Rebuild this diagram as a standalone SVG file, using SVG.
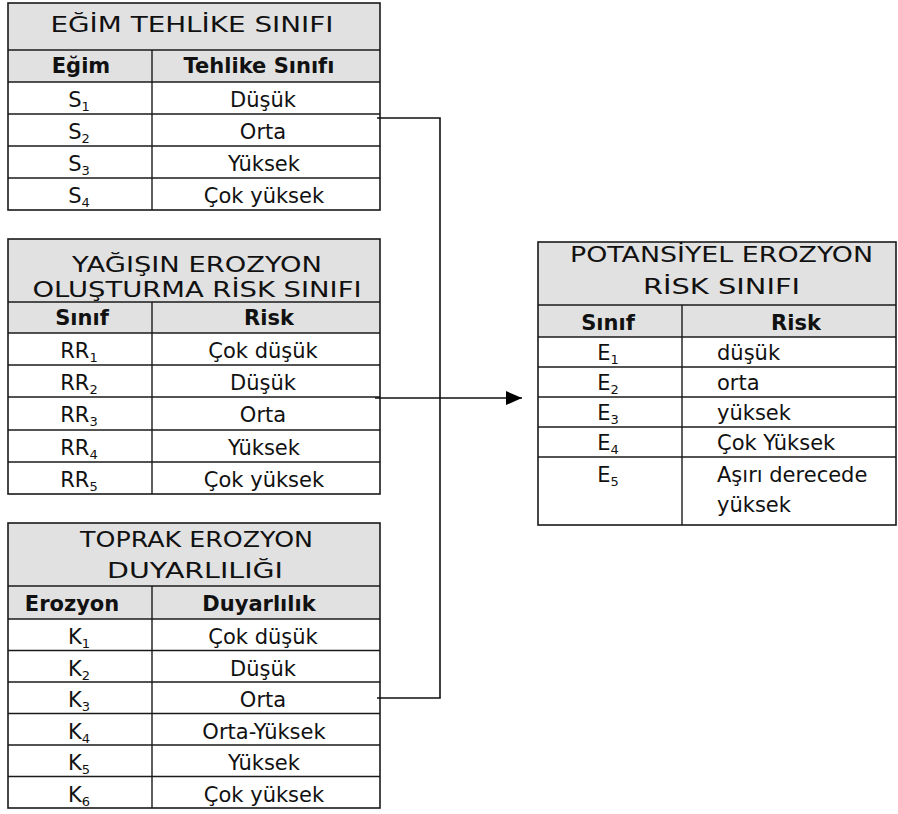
<svg xmlns="http://www.w3.org/2000/svg" width="898" height="814" viewBox="0 0 898 814">
  <style>
    .bg { fill: #ffffff; }
    .shade { fill: #e1e1e1; }
    .frame { fill: none; stroke: #1a1a1a; stroke-width: 1.6; }
    .rule { stroke: #1a1a1a; stroke-width: 1.4; }
    .wire { fill: none; stroke: #111; stroke-width: 1.6; }
    text { font-family: "DejaVu Sans", Verdana, sans-serif; font-size: 21px; fill: #111; }
    .c { text-anchor: middle; }
    .b { font-weight: bold; }
    .ttl { font-size: 22px; }
    .sub { font-size: 13px; }
  </style>
  <defs>
    <marker id="arrow" viewBox="0 0 16 14" refX="16" refY="7" markerWidth="16" markerHeight="14" markerUnits="userSpaceOnUse" orient="auto">
      <path d="M0,0 L16,7 L0,14 Z" fill="#000"/>
    </marker>
  </defs>

  <rect class="bg" x="0" y="0" width="898" height="814"/>

  <!-- Slope hazard class table -->
  <g id="slope-table">
    <rect class="shade" x="8" y="3" width="372" height="79"/>
    <rect class="frame" x="8" y="3" width="372" height="207"/>
    <line class="rule" x1="8" y1="50" x2="380" y2="50"/>
    <line class="rule" x1="8" y1="82" x2="380" y2="82"/>
    <line class="rule" x1="8" y1="114" x2="380" y2="114"/>
    <line class="rule" x1="8" y1="146" x2="380" y2="146"/>
    <line class="rule" x1="8" y1="178" x2="380" y2="178"/>
    <line class="rule" x1="152" y1="50" x2="152" y2="210"/>
    <text class="c ttl" x="192" y="32" textLength="283" lengthAdjust="spacingAndGlyphs">EĞİM TEHLİKE SINIFI</text>
    <text class="c b" x="81" y="73">Eğim</text>
    <text class="c b" x="259" y="73">Tehlike Sınıfı</text>
    <text class="c" x="79" y="107">S<tspan class="sub" dy="4">1</tspan></text>
    <text class="c" x="79" y="139">S<tspan class="sub" dy="4">2</tspan></text>
    <text class="c" x="79" y="171">S<tspan class="sub" dy="4">3</tspan></text>
    <text class="c" x="79" y="203">S<tspan class="sub" dy="4">4</tspan></text>
    <text class="c" x="263" y="107">Düşük</text>
    <text class="c" x="263" y="139">Orta</text>
    <text class="c" x="264" y="171">Yüksek</text>
    <text class="c" x="264" y="203">Çok yüksek</text>
  </g>

  <!-- Rainfall erosion risk class table -->
  <g id="rain-table">
    <rect class="shade" x="8" y="239" width="372" height="94"/>
    <rect class="frame" x="8" y="239" width="372" height="255"/>
    <line class="rule" x1="8" y1="302" x2="380" y2="302"/>
    <line class="rule" x1="8" y1="333" x2="380" y2="333"/>
    <line class="rule" x1="8" y1="365" x2="380" y2="365"/>
    <line class="rule" x1="8" y1="397" x2="380" y2="397"/>
    <line class="rule" x1="8" y1="430" x2="380" y2="430"/>
    <line class="rule" x1="8" y1="462" x2="380" y2="462"/>
    <line class="rule" x1="152" y1="302" x2="152" y2="494"/>
    <text class="c ttl" x="197" y="272" textLength="250" lengthAdjust="spacingAndGlyphs">YAĞIŞIN  EROZYON</text>
    <text class="c ttl" x="197" y="297" textLength="329" lengthAdjust="spacingAndGlyphs">OLUŞTURMA RİSK SINIFI</text>
    <text class="c b" x="82" y="325">Sınıf</text>
    <text class="c b" x="269" y="325">Risk</text>
    <text class="c" x="79" y="358">RR<tspan class="sub" dy="4">1</tspan></text>
    <text class="c" x="79" y="390">RR<tspan class="sub" dy="4">2</tspan></text>
    <text class="c" x="79" y="422">RR<tspan class="sub" dy="4">3</tspan></text>
    <text class="c" x="79" y="455">RR<tspan class="sub" dy="4">4</tspan></text>
    <text class="c" x="79" y="487">RR<tspan class="sub" dy="4">5</tspan></text>
    <text class="c" x="263" y="358">Çok düşük</text>
    <text class="c" x="263" y="390">Düşük</text>
    <text class="c" x="263" y="422">Orta</text>
    <text class="c" x="264" y="455">Yüksek</text>
    <text class="c" x="264" y="487">Çok yüksek</text>
  </g>

  <!-- Soil erodibility table -->
  <g id="soil-table">
    <rect class="shade" x="8" y="523" width="372" height="96"/>
    <rect class="frame" x="8" y="523" width="372" height="285"/>
    <line class="rule" x1="8" y1="586" x2="380" y2="586"/>
    <line class="rule" x1="8" y1="619" x2="380" y2="619"/>
    <line class="rule" x1="8" y1="650.5" x2="380" y2="650.5"/>
    <line class="rule" x1="8" y1="682" x2="380" y2="682"/>
    <line class="rule" x1="8" y1="713.5" x2="380" y2="713.5"/>
    <line class="rule" x1="8" y1="745" x2="380" y2="745"/>
    <line class="rule" x1="8" y1="776.5" x2="380" y2="776.5"/>
    <line class="rule" x1="152" y1="586" x2="152" y2="808"/>
    <text class="c ttl" x="196.5" y="547" textLength="233" lengthAdjust="spacingAndGlyphs">TOPRAK EROZYON</text>
    <text class="c ttl" x="195" y="578" textLength="176" lengthAdjust="spacingAndGlyphs">DUYARLILIĞI</text>
    <text class="c b" x="72" y="611">Erozyon</text>
    <text class="c b" x="259" y="611">Duyarlılık</text>
    <text class="c" x="79" y="644">K<tspan class="sub" dy="4">1</tspan></text>
    <text class="c" x="79" y="675.5">K<tspan class="sub" dy="4">2</tspan></text>
    <text class="c" x="79" y="707">K<tspan class="sub" dy="4">3</tspan></text>
    <text class="c" x="79" y="738.5">K<tspan class="sub" dy="4">4</tspan></text>
    <text class="c" x="79" y="770">K<tspan class="sub" dy="4">5</tspan></text>
    <text class="c" x="79" y="801.5">K<tspan class="sub" dy="4">6</tspan></text>
    <text class="c" x="263" y="644">Çok düşük</text>
    <text class="c" x="263" y="675.5">Düşük</text>
    <text class="c" x="263" y="707">Orta</text>
    <text class="c" x="264" y="738.5">Orta-Yüksek</text>
    <text class="c" x="264" y="770">Yüksek</text>
    <text class="c" x="264" y="801.5">Çok yüksek</text>
  </g>

  <!-- Potential erosion risk class table -->
  <g id="result-table">
    <rect class="shade" x="538" y="242" width="358" height="95"/>
    <rect class="frame" x="538" y="242" width="358" height="283"/>
    <line class="rule" x1="538" y1="305" x2="896" y2="305"/>
    <line class="rule" x1="538" y1="337" x2="896" y2="337"/>
    <line class="rule" x1="538" y1="367" x2="896" y2="367"/>
    <line class="rule" x1="538" y1="397" x2="896" y2="397"/>
    <line class="rule" x1="538" y1="427" x2="896" y2="427"/>
    <line class="rule" x1="538" y1="457" x2="896" y2="457"/>
    <line class="rule" x1="682" y1="305" x2="682" y2="525"/>
    <text class="c ttl" x="721.5" y="262" textLength="303" lengthAdjust="spacingAndGlyphs">POTANSİYEL  EROZYON</text>
    <text class="c ttl" x="721.5" y="294" textLength="157" lengthAdjust="spacingAndGlyphs">RİSK SINIFI</text>
    <text class="c b" x="608" y="330">Sınıf</text>
    <text class="c b" x="796" y="330">Risk</text>
    <text class="c" x="608" y="360">E<tspan class="sub" dy="4">1</tspan></text>
    <text class="c" x="608" y="390">E<tspan class="sub" dy="4">2</tspan></text>
    <text class="c" x="608" y="420">E<tspan class="sub" dy="4">3</tspan></text>
    <text class="c" x="608" y="450">E<tspan class="sub" dy="4">4</tspan></text>
    <text class="c" x="608" y="482">E<tspan class="sub" dy="4">5</tspan></text>
    <text x="717" y="360">düşük</text>
    <text x="717" y="390">orta</text>
    <text x="717" y="420">yüksek</text>
    <text x="717" y="450">Çok Yüksek</text>
    <text x="717" y="482">Aşırı derecede</text>
    <text x="717" y="512">yüksek</text>
  </g>

  <!-- Connectors: the three inputs join and feed the result table -->
  <g id="connectors">
    <path class="wire" d="M377,118 H440 V698 H377"/>
    <line class="wire" x1="375" y1="398" x2="522" y2="398" marker-end="url(#arrow)"/>
  </g>
</svg>
